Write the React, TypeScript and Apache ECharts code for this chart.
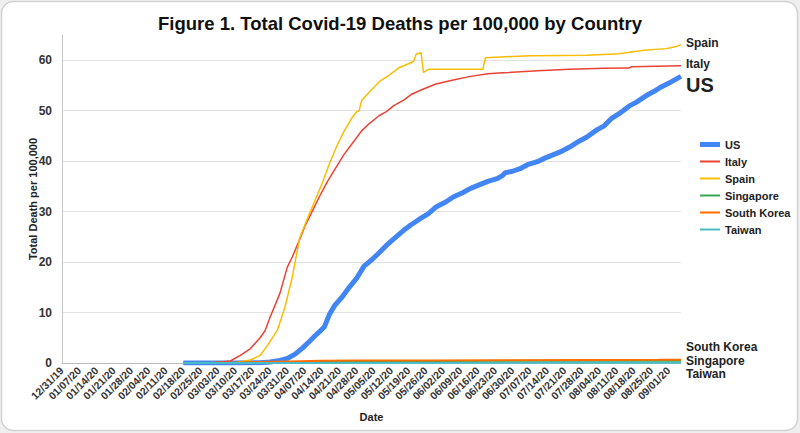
import React, { useEffect, useRef } from "react";
import * as echarts from "echarts";

// ---- data ----
const startDate = Date.UTC(2019, 11, 31);
const dayCount = 251; // 12/31/19 .. 09/06/20
const categories: string[] = [];
for (let i = 0; i < dayCount; i++) {
  const d = new Date(startDate + i * 86400000);
  const mm = String(d.getUTCMonth() + 1).padStart(2, "0");
  const dd = String(d.getUTCDate()).padStart(2, "0");
  const yy = String(d.getUTCFullYear()).slice(2);
  categories.push(`${mm}/${dd}/${yy}`);
}

const usData: [string, number][] = [
  ["02/18/20", 0], ["03/10/20", 0.01], ["03/20/20", 0.05], ["03/24/20", 0.2], ["03/28/20", 0.5],
  ["03/31/20", 0.9], ["04/03/20", 1.7], ["04/06/20", 2.9], ["04/09/20", 4.3], ["04/11/20", 5.3],
  ["04/13/20", 6.2], ["04/15/20", 7.2], ["04/17/20", 9.6], ["04/19/20", 11.3], ["04/22/20", 13.0],
  ["04/25/20", 15.0], ["04/28/20", 16.8], ["05/01/20", 19.2], ["05/04/20", 20.4], ["05/07/20", 21.8],
  ["05/10/20", 23.3], ["05/13/20", 24.6], ["05/17/20", 26.3], ["05/20/20", 27.4], ["05/24/20", 28.7],
  ["05/27/20", 29.6], ["05/30/20", 30.9], ["06/03/20", 31.9], ["06/06/20", 32.9], ["06/10/20", 33.8],
  ["06/13/20", 34.6], ["06/17/20", 35.4], ["06/20/20", 36.0], ["06/24/20", 36.6], ["06/26/20", 37.2],
  ["06/27/20", 37.7], ["06/30/20", 38.0], ["07/03/20", 38.5], ["07/06/20", 39.3], ["07/10/20", 39.9],
  ["07/13/20", 40.6], ["07/16/20", 41.2], ["07/20/20", 42.0], ["07/23/20", 42.8], ["07/27/20", 44.0],
  ["07/30/20", 44.8], ["08/03/20", 46.2], ["08/06/20", 47.0], ["08/09/20", 48.5], ["08/12/20", 49.4],
  ["08/16/20", 50.9], ["08/19/20", 51.7], ["08/23/20", 53.0], ["08/26/20", 53.8], ["08/29/20", 54.7],
  ["09/02/20", 55.7], ["09/06/20", 56.8],
];

const italyData: [string, number][] = [
  ["02/18/20", 0], ["03/01/20", 0.05], ["03/08/20", 0.4], ["03/12/20", 1.5], ["03/16/20", 2.8],
  ["03/20/20", 5.0], ["03/22/20", 6.4], ["03/24/20", 9.0], ["03/28/20", 13.8], ["03/31/20", 19.0],
  ["04/02/20", 21.0], ["04/05/20", 24.5], ["04/07/20", 27.0], ["04/10/20", 30.0], ["04/13/20", 33.0],
  ["04/16/20", 35.8], ["04/20/20", 39.0], ["04/23/20", 41.4], ["04/27/20", 44.0], ["04/30/20", 46.0],
  ["05/03/20", 47.4], ["05/07/20", 49.0], ["05/10/20", 49.8], ["05/13/20", 51.0], ["05/17/20", 52.1],
  ["05/20/20", 53.2], ["05/24/20", 54.1], ["05/30/20", 55.3], ["06/06/20", 56.1], ["06/13/20", 56.8],
  ["06/20/20", 57.3], ["06/26/20", 57.5], ["07/10/20", 57.9], ["07/23/20", 58.2], ["08/06/20", 58.4],
  ["08/16/20", 58.45], ["08/17/20", 58.7], ["09/06/20", 58.9],
];

const spainData: [string, number][] = [
  ["02/18/20", 0], ["03/10/20", 0.05], ["03/16/20", 0.6], ["03/20/20", 1.5], ["03/23/20", 3.5],
  ["03/27/20", 6.5], ["03/30/20", 11.0], ["04/02/20", 17.0], ["04/05/20", 24.8], ["04/08/20", 28.5],
  ["04/11/20", 32.0], ["04/14/20", 35.5], ["04/17/20", 39.5], ["04/20/20", 43.0], ["04/23/20", 46.0],
  ["04/26/20", 48.5], ["04/28/20", 49.8], ["04/29/20", 50.0], ["04/30/20", 52.0], ["05/03/20", 53.6],
  ["05/07/20", 55.7], ["05/11/20", 57.0], ["05/15/20", 58.5], ["05/19/20", 59.3], ["05/21/20", 59.8],
  ["05/22/20", 61.2], ["05/24/20", 61.5], ["05/25/20", 57.6], ["05/27/20", 58.2], ["06/18/20", 58.2],
  ["06/19/20", 60.5], ["07/07/20", 60.9], ["07/30/20", 61.0], ["08/12/20", 61.3], ["08/22/20", 62.0],
  ["08/31/20", 62.3], ["09/04/20", 62.7], ["09/06/20", 63.1],
];

const singaporeData: [string, number][] = [
  ["02/18/20", 0], ["03/20/20", 0.02], ["03/31/20", 0.05], ["04/14/20", 0.2], ["04/30/20", 0.3],
  ["05/30/20", 0.4], ["06/30/20", 0.45], ["09/06/20", 0.47],
];

const southKoreaData: [string, number][] = [
  ["02/18/20", 0], ["02/29/20", 0.03], ["03/10/20", 0.1], ["03/20/20", 0.2], ["03/31/20", 0.31],
  ["04/14/20", 0.43], ["04/30/20", 0.48], ["05/30/20", 0.52], ["06/30/20", 0.54], ["07/31/20", 0.58],
  ["08/28/20", 0.62], ["09/06/20", 0.65],
];

const taiwanData: [string, number][] = [
  ["02/18/20", 0], ["03/20/20", 0.01], ["04/09/20", 0.02], ["09/06/20", 0.03],
];

const yTicks = [0, 10, 20, 30, 40, 50, 60];

const FONT = "'Liberation Sans', Arial, sans-serif";

export default function App() {
  const ref = useRef<HTMLDivElement>(null);

  useEffect(() => {
    if (!ref.current) return;
    const chart = echarts.init(ref.current, undefined, { renderer: "svg" });
    const idx = new Map(categories.map((c, i) => [c, i]));
    const toSeries = (arr: [string, number][]) => arr.map(([d, v]) => [idx.get(d), v]);

    const mk = (
      name: string,
      data: [string, number][],
      color: string,
      width: number,
      offset: number[],
      fontSize: number
    ) => ({
      name,
      type: "line",
      data: toSeries(data),
      showSymbol: false,
      symbol: "none",
      lineStyle: { color, width },
      itemStyle: { color },
      emphasis: { disabled: true },
      endLabel: {
        show: true,
        formatter: name,
        offset,
        distance: 5,
        fontFamily: FONT,
        fontWeight: "bold",
        fontSize,
        color: "#222",
      },
    });

    const thinIcon = "path://M0,0H20V2H0Z";
    const thickIcon = "path://M0,0H20V5H0Z";

    chart.setOption({
      animation: false,
      backgroundColor: "#efefef",
      textStyle: { fontFamily: FONT },
      graphic: [
        {
          type: "rect",
          z: -100,
          silent: true,
          shape: { x: 1.5, y: 1.5, width: 796, height: 429, r: 12 },
          style: { fill: "#ffffff", stroke: "#d2d2d2", lineWidth: 1.5 },
        },
      ],
      title: {
        text: "Figure 1. Total Covid-19 Deaths per 100,000 by Country",
        left: "center",
        top: 9,
        textStyle: { fontFamily: FONT, fontWeight: "bold", fontSize: 18.5, color: "#111" },
      },
      legend: {
        orient: "vertical",
        left: 695,
        top: 134,
        itemWidth: 20,
        itemHeight: 12,
        itemGap: 6,
        symbolKeepAspect: true,
        textStyle: { fontFamily: FONT, fontWeight: "bold", fontSize: 11, color: "#222" },
        data: [
          { name: "US", icon: thickIcon },
          { name: "Italy", icon: thinIcon },
          { name: "Spain", icon: thinIcon },
          { name: "Singapore", icon: thinIcon },
          { name: "South Korea", icon: thinIcon },
          { name: "Taiwan", icon: thinIcon },
        ],
      },
      grid: { left: 62, right: 119, top: 35, bottom: 70, containLabel: false },
      xAxis: {
        type: "category",
        data: categories,
        boundaryGap: false,
        name: "Date",
        nameLocation: "middle",
        nameGap: 48,
        nameMoveOverlap: false,
        nameTextStyle: { fontFamily: FONT, fontWeight: "bold", fontSize: 11, color: "#222" },
        axisLine: { lineStyle: { color: "#bdbdbd" } },
        axisTick: { show: false },
        axisLabel: {
          interval: 6,
          rotate: 45,
          margin: 6,
          fontFamily: FONT,
          fontWeight: "bold",
          fontSize: 10.5,
          color: "#333",
        },
        splitLine: { show: false },
      },
      yAxis: {
        type: "value",
        min: 0,
        max: 65,
        interval: 10,
        name: "Total Death per 100,000",
        nameLocation: "middle",
        nameGap: 24,
        nameMoveOverlap: false,
        nameTextStyle: { fontFamily: FONT, fontWeight: "bold", fontSize: 11, color: "#222" },
        axisLine: { show: true, lineStyle: { color: "#c8c8c8" } },
        axisTick: { show: false },
        axisLabel: {
          showMaxLabel: false,
          margin: 10,
          fontFamily: FONT,
          fontWeight: "bold",
          fontSize: 12,
          color: "#333",
          formatter: (v: number) => (yTicks.includes(v) ? String(v) : ""),
        },
        splitLine: { show: true, showMaxLine: false, lineStyle: { color: "#e2e2e2" } },
      },
      series: [
        mk("US", usData, "#4285F4", 5, [0, 9], 20),
        mk("Italy", italyData, "#EA4335", 1.5, [0, -2], 12),
        mk("Spain", spainData, "#FBBC04", 1.5, [0, -2], 12),
        mk("Singapore", singaporeData, "#34A853", 2, [0, 0], 12),
        mk("South Korea", southKoreaData, "#FF6D01", 2, [0, -13], 12),
        mk("Taiwan", taiwanData, "#46BDC6", 2, [0, 11], 12),
      ],
    });
    return () => chart.dispose();
  }, []);

  return (
    <div
      ref={ref}
      style={{ position: "fixed", left: 0, top: 0, width: 800, height: 433 }}
    />
  );
}
